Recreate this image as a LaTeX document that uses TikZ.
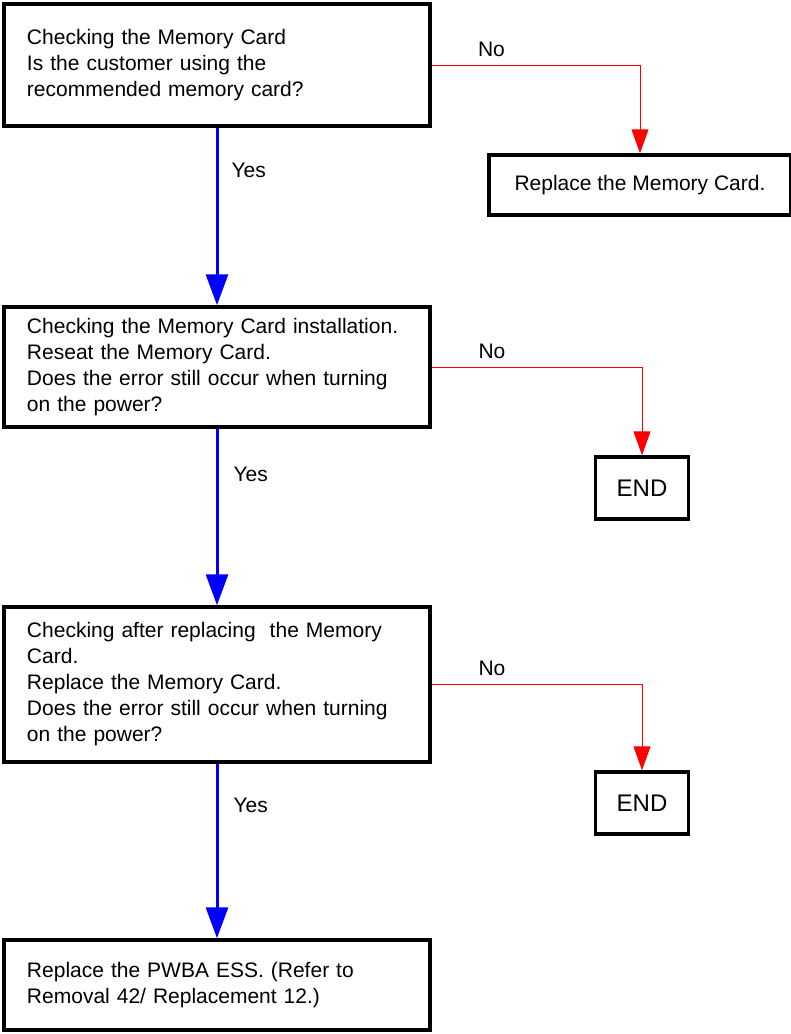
\documentclass[tikz,border=0pt]{standalone}
\usepackage{fontspec}
\setmainfont{Liberation Sans}
\usetikzlibrary{arrows.meta}
\begin{document}
\begin{tikzpicture}[x=1pt,y=-1pt,
  every node/.style={font=\fontsize{21}{26}\selectfont},
  bigbox/.style={draw=black, line width=3.5pt, rectangle, minimum width=426pt,
    text width=380pt, inner xsep=23pt, align=left},
  smallbox/.style={draw=black, line width=3.5pt, rectangle, align=center, inner sep=0pt},
  yesarrow/.style={draw=blue, line width=3pt, -{Triangle[width=22pt,length=31pt]}},
  noarrow/.style={draw=red, line width=1pt, -{Triangle[width=17pt,length=24pt]}},
  lbl/.style={inner sep=0pt, text=black}
]
\useasboundingbox (0,0) rectangle (791,1034);

\node[bigbox, minimum height=122pt] (b1) at (217,65)
  {Checking the Memory Card\\Is the customer using the\\recommended memory card?};
\node[bigbox, minimum height=120pt] (b2) at (217,367)
  {Checking the Memory Card installation.\\Reseat the Memory Card.\\Does the error still occur when turning\\on the power?};
\node[bigbox, minimum height=155pt] (b3) at (217,684.5)
  {Checking after replacing~ the Memory\\Card.\\Replace the Memory Card.\\Does the error still occur when turning\\on the power?};
\node[bigbox, minimum height=90pt] (b4) at (217,985)
  {Replace the PWBA ESS. (Refer to\\Removal 42/ Replacement 12.)};

\node[smallbox, minimum width=302pt, minimum height=60pt] (r1) at (640,185)
  {Replace the Memory Card.};
\node[smallbox, minimum width=93pt, minimum height=62pt, font=\fontsize{24}{28}\selectfont] (e1) at (642,488) {END};
\node[smallbox, minimum width=93pt, minimum height=62pt, font=\fontsize{24}{28}\selectfont] (e2) at (642,803) {END};

\draw[yesarrow] (b1.south) -- node[lbl, pos=0.24, anchor=west, xshift=13pt] (y1) {Yes} (b2.north);
\draw[yesarrow] (b2.south) -- node[lbl, pos=0.26, anchor=west, xshift=15pt] (y2) {Yes} (b3.north);
\draw[yesarrow] (b3.south) -- node[lbl, pos=0.24, anchor=west, xshift=15pt] (y3) {Yes} (b4.north);

\draw[noarrow] (b1.east) -| node[lbl, pos=0.11, anchor=south west, yshift=8pt] (n1) {No} (r1.north);
\draw[noarrow] (b2.east) -| node[lbl, pos=0.11, anchor=south west, yshift=8pt] (n2) {No} (e1.north);
\draw[noarrow] (b3.east) -| node[lbl, pos=0.11, anchor=south west, yshift=8pt] (n3) {No} (e2.north);
\end{tikzpicture}
\end{document}
